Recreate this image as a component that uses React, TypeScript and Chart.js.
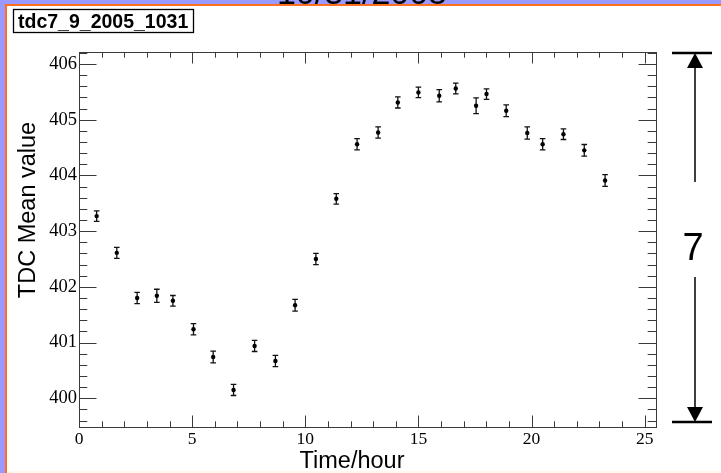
import { useEffect, useRef } from 'react';
import { Chart, registerables } from 'chart.js';

Chart.register(...registerables);

// Hour of day at which each TDC mean was measured
const hours = [
  0.78, 1.67, 2.57, 3.44, 4.15, 5.06, 5.93, 6.83, 7.76, 8.68, 9.55, 10.47, 11.37, 12.29,
  13.22, 14.09, 15.0, 15.92, 16.65, 17.55, 18.01, 18.88, 19.81, 20.49, 21.41, 22.33, 23.25,
];
// TDC mean value per hour
const tdcMean = [
  403.27, 402.61, 401.8, 401.84, 401.75, 401.24, 400.74, 400.15, 400.94, 400.67, 401.67,
  402.5, 403.58, 404.56, 404.77, 405.31, 405.49, 405.43, 405.56, 405.25, 405.46, 405.16,
  404.76, 404.56, 404.74, 404.45, 403.91,
];
// Error on the mean
const tdcError = [
  0.095, 0.1, 0.1, 0.117, 0.095, 0.1, 0.105, 0.1, 0.1, 0.1, 0.105, 0.1, 0.095, 0.1, 0.1,
  0.1, 0.095, 0.11, 0.095, 0.14, 0.095, 0.105, 0.11, 0.1, 0.095, 0.105, 0.105,
];

const xMajorTicks = [0, 5, 10, 15, 20, 25];
const yMajorTicks = [400, 401, 402, 403, 404, 405, 406];
const xMinorStep = 1;
const yMinorStep = 0.2;
const xRange = [0, 25.5];
const yRange = [399.485, 406.215];

const histTitle = '10/31/2005';
const statsName = 'tdc7_9_2005_1031';
const xTitle = 'Time/hour';
const yTitle = 'TDC Mean value';
const spanLabel = '7';

const SANS = '"Liberation Sans", Arial, sans-serif';
const SERIF = '"Liberation Serif", "Times New Roman", serif';

const pagePlugin = {
  id: 'page',
  beforeDraw(chart: any) {
    const { ctx, width: W, height: H } = chart;
    ctx.save();
    ctx.fillStyle = '#9999ff';
    ctx.fillRect(0, 0, W, H);
    ctx.fillStyle = '#000';
    ctx.font = `34px ${SANS}`;
    ctx.textAlign = 'center';
    ctx.textBaseline = 'alphabetic';
    ctx.fillText(histTitle, 362, 4);
    ctx.fillStyle = '#ff6f1f';
    ctx.fillRect(5, 4, W - 5, H - 4);
    ctx.fillStyle = '#fff6ec';
    ctx.fillRect(7, 6, W - 7, H - 6);
    ctx.fillStyle = '#ffffff';
    ctx.fillRect(7, 6, W - 7, H - 8);

    // stats box
    ctx.strokeStyle = '#000';
    ctx.lineWidth = 1.3;
    ctx.strokeRect(13.5, 9.5, 180, 23);
    ctx.fillStyle = '#000';
    ctx.font = `bold 19.5px ${SANS}`;
    ctx.textAlign = 'left';
    ctx.textBaseline = 'alphabetic';
    ctx.fillText(statsName, 18, 27.5);
    ctx.restore();
  },
};

const errorBarPlugin = {
  id: 'errorBars',
  beforeDatasetsDraw(chart: any) {
    const { ctx } = chart;
    const xs = chart.scales.x;
    const ys = chart.scales.y;
    ctx.save();
    ctx.strokeStyle = '#111';
    ctx.lineWidth = 1.3;
    hours.forEach((h, i) => {
      const px = xs.getPixelForValue(h);
      const yTop = ys.getPixelForValue(tdcMean[i] + tdcError[i]);
      const yBot = ys.getPixelForValue(tdcMean[i] - tdcError[i]);
      ctx.beginPath();
      ctx.moveTo(px, yTop);
      ctx.lineTo(px, yBot);
      ctx.moveTo(px - 2.8, yTop);
      ctx.lineTo(px + 2.8, yTop);
      ctx.moveTo(px - 2.8, yBot);
      ctx.lineTo(px + 2.8, yBot);
      ctx.stroke();
    });
    ctx.restore();
  },
};

const framePlugin = {
  id: 'frameTicks',
  afterDraw(chart: any) {
    const { ctx, chartArea: a } = chart;
    const xs = chart.scales.x;
    const ys = chart.scales.y;
    ctx.save();
    ctx.strokeStyle = '#3a3a3a';
    ctx.lineWidth = 1;
    ctx.strokeRect(a.left + 0.5, a.top + 0.5, a.right - a.left, a.bottom - a.top);

    ctx.beginPath();
    // x ticks, bottom and top, pointing inward
    for (let v = xRange[0]; v <= xRange[1] + 1e-9; v += xMinorStep) {
      const major = xMajorTicks.some((t) => Math.abs(t - v) < 1e-6);
      const len = major ? 11.5 : 5.7;
      const px = Math.round(xs.getPixelForValue(v)) + 0.5;
      ctx.moveTo(px, a.bottom);
      ctx.lineTo(px, a.bottom - len);
      ctx.moveTo(px, a.top);
      ctx.lineTo(px, a.top + len);
    }
    // y ticks, left and right, pointing inward
    const yStart = Math.ceil(yRange[0] / yMinorStep) * yMinorStep;
    for (let v = yStart; v <= yRange[1] + 1e-9; v += yMinorStep) {
      const major = yMajorTicks.some((t) => Math.abs(t - v) < 1e-6);
      const len = major ? 17.5 : 8.3;
      const py = Math.round(ys.getPixelForValue(v)) + 0.5;
      ctx.moveTo(a.left, py);
      ctx.lineTo(a.left + len, py);
      ctx.moveTo(a.right, py);
      ctx.lineTo(a.right - len, py);
    }
    ctx.stroke();

    // axis titles
    ctx.fillStyle = '#000';
    ctx.font = `23.5px ${SANS}`;
    ctx.textAlign = 'center';
    ctx.textBaseline = 'alphabetic';
    ctx.fillText(xTitle, 352, 468);
    ctx.save();
    ctx.translate(35, 210);
    ctx.rotate(-Math.PI / 2);
    ctx.fillText(yTitle, 0, 0);
    ctx.restore();

    // span marker on the right side
    const top = a.top + 1;
    const bot = a.bottom - 5;
    const cx = 695;
    ctx.strokeStyle = '#000';
    ctx.lineWidth = 2.5;
    ctx.beginPath();
    ctx.moveTo(672, top);
    ctx.lineTo(712, top);
    ctx.moveTo(672, bot);
    ctx.lineTo(712, bot);
    ctx.stroke();
    ctx.lineWidth = 1.5;
    ctx.beginPath();
    ctx.moveTo(cx, top + 12);
    ctx.lineTo(cx, 182);
    ctx.moveTo(cx, 277);
    ctx.lineTo(cx, bot - 12);
    ctx.stroke();
    ctx.fillStyle = '#000';
    ctx.beginPath();
    ctx.moveTo(cx, top);
    ctx.lineTo(cx - 8, top + 15);
    ctx.lineTo(cx + 8, top + 15);
    ctx.closePath();
    ctx.fill();
    ctx.beginPath();
    ctx.moveTo(cx, bot);
    ctx.lineTo(cx - 8, bot - 15);
    ctx.lineTo(cx + 8, bot - 15);
    ctx.closePath();
    ctx.fill();
    ctx.font = `38px ${SANS}`;
    ctx.textAlign = 'center';
    ctx.textBaseline = 'alphabetic';
    ctx.fillText(spanLabel, 693, 260);
    ctx.restore();
  },
};

export default function App() {
  const canvasRef = useRef<HTMLCanvasElement | null>(null);

  useEffect(() => {
    const canvas = canvasRef.current;
    if (!canvas) return;
    const chart = new Chart(canvas, {
      type: 'scatter',
      data: {
        datasets: [
          {
            data: hours.map((h, i) => ({ x: h, y: tdcMean[i] })),
            backgroundColor: '#000',
            borderColor: '#000',
            pointRadius: 2.2,
            pointBorderWidth: 0,
            pointHoverRadius: 2.2,
          },
        ],
      },
      options: {
        responsive: false,
        animation: false,
        devicePixelRatio: 1,
        layout: { padding: { top: 52, right: 65, left: 0, bottom: 0 } },
        plugins: { legend: { display: false }, tooltip: { enabled: false } },
        scales: {
          x: {
            type: 'linear',
            min: xRange[0],
            max: xRange[1],
            grid: { display: false, drawTicks: false },
            border: { display: false },
            ticks: {
              color: '#000',
              font: { family: SERIF, size: 17.5 },
              padding: 2,
              maxRotation: 0,
              autoSkip: false,
            },
            afterBuildTicks: (scale: any) => {
              scale.ticks = xMajorTicks.map((v) => ({ value: v }));
            },
            afterFit: (scale: any) => {
              scale.height = 46;
            },
          },
          y: {
            type: 'linear',
            min: yRange[0],
            max: yRange[1],
            grid: { display: false, drawTicks: false },
            border: { display: false },
            ticks: {
              color: '#000',
              font: { family: SERIF, size: 18.5 },
              padding: 2,
              autoSkip: false,
            },
            afterBuildTicks: (scale: any) => {
              scale.ticks = yMajorTicks.map((v) => ({ value: v }));
            },
            afterFit: (scale: any) => {
              scale.width = 79;
            },
          },
        },
      },
      plugins: [pagePlugin, errorBarPlugin, framePlugin],
    });
    return () => chart.destroy();
  }, []);

  return (
    <div style={{ position: 'absolute', left: 0, top: 0, width: 721, height: 473 }}>
      <canvas ref={canvasRef} width={721} height={473} style={{ display: 'block' }} />
    </div>
  );
}
